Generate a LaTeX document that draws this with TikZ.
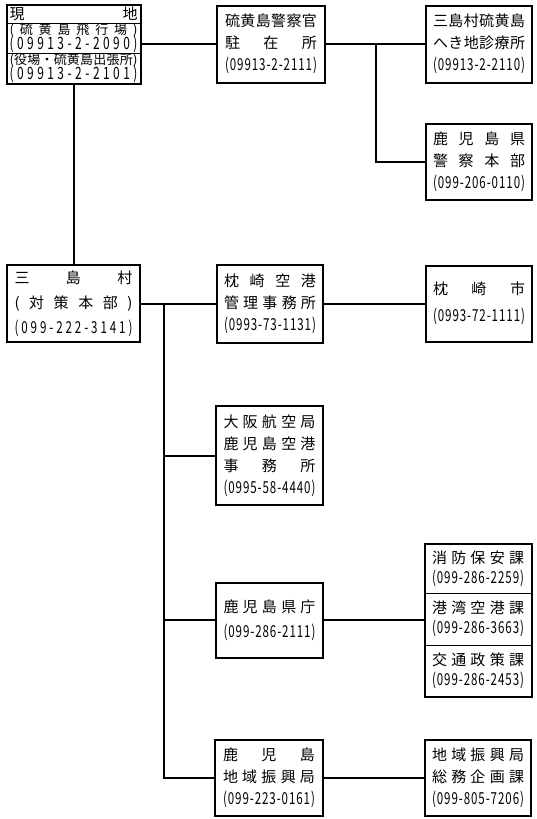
\documentclass[tikz,border=0pt]{standalone}
\usepackage{fontspec}
\setmainfont{Noto Sans CJK JP}
\newfontfamily\telfont[FakeStretch=0.7]{Noto Sans CJK JP}
\usetikzlibrary{fit}
\makeatletter
\def\spread#1{\makebox[\linewidth][s]{\spread@#1\@nil}}
\def\spread@#1#2\@nil{#1\ifx\relax#2\relax\else\hfill\spread@#2\@nil\fi}
\makeatother
\newcommand{\tel}[2][16.5pt]{{\telfont\fontsize{#1}{#1}\selectfont\spread{#2}}}
\tikzset{
  box/.style={draw, line width=2pt, inner sep=0pt, text width=92pt, minimum width=106pt,
    minimum height=77pt, align=center, font=\fontsize{15pt}{22pt}\selectfont},
  widebox/.style={box, text width=118pt, minimum width=133pt},
  part/.style={draw, line width=1pt, inner sep=0pt, text width=92pt, minimum width=106pt,
    align=center, font=\fontsize{15pt}{20pt}\selectfont},
  widepart/.style={part, text width=128pt, minimum width=133pt,
    font={\fontsize{13pt}{15pt}\selectfont\lineskiplimit=-8pt}},
  outline/.style={draw, line width=2pt, inner sep=0pt},
  link/.style={line width=2pt}
}

\begin{document}
\begin{tikzpicture}[x=1pt,y=-1pt]
\useasboundingbox (0,0) rectangle (537,819);
\node[widepart, minimum height=18pt, font=\fontsize{15pt}{15pt}\selectfont] (genchi1) at (73.5,14) {\spread{現地}};
\node[widepart, minimum height=30pt] (genchi2) at (73.5,38) {\spread{(硫黄島飛行場)}\\\tel[17pt]{(09913-2-2090)}};
\node[widepart, minimum height=30pt] (genchi3) at (73.5,68) {\spread{(役場・硫黄島出張所)}\\\tel[17pt]{(09913-2-2101)}};
\node[outline, fit=(genchi1)(genchi3)] (genchi) {};
\node[box, minimum width=108pt] (keisatsu) at (271,44) {\spread{硫黄島警察官}\\\spread{駐在所}\\\tel{(09913-2-2111)}};
\node[box] (shinryo) at (479,44) {\spread{三島村硫黄島}\\\spread{へき地診療所}\\\tel{(09913-2-2110)}};
\node[box, minimum height=76pt] (kenkei) at (479,162) {\spread{鹿児島県}\\\spread{警察本部}\\\tel{(099-206-0110)}};
\node[widebox, font=\fontsize{15pt}{25pt}\selectfont] (mishima) at (73.5,303.5) {\spread{三島村}\\\spread{(対策本部)}\\\tel{(099-222-3141)}};
\node[box, minimum height=78pt] (kuko) at (270,303.5) {\spread{枕崎空港}\\\spread{管理事務所}\\\tel{(0993-73-1131)}};
\node[box, minimum height=76pt, font=\fontsize{15pt}{27pt}\selectfont] (makishi) at (479,303.5) {\spread{枕崎市}\\\tel{(0993-72-1111)}};
\node[box, minimum width=107pt, minimum height=99pt] (osaka) at (269.5,455.5) {\spread{大阪航空局}\\\spread{鹿児島空港}\\\spread{事務所}\\\tel{(0995-58-4440)}};
\node[box, minimum width=107pt, minimum height=75pt, font=\fontsize{15pt}{25pt}\selectfont] (kencho) at (269.5,620) {\spread{鹿児島県庁}\\\tel{(099-286-2111)}};
\node[part, minimum height=49pt] (shobo) at (478,568.5) {\spread{消防保安課}\\\tel{(099-286-2259)}};
\node[part, minimum height=52pt] (kowan) at (478,619) {\spread{港湾空港課}\\\tel{(099-286-3663)}};
\node[part, minimum height=51pt] (kotsu) at (478,670.5) {\spread{交通政策課}\\\tel{(099-286-2453)}};
\node[outline, fit=(shobo)(kotsu)] (ka) {};
\node[box, minimum width=108pt, minimum height=76pt] (chiiki) at (269,778) {\spread{鹿児島}\\\spread{地域振興局}\\\tel{(099-223-0161)}};
\node[box, minimum height=76pt] (somu) at (478,778) {\spread{地域振興局}\\\spread{総務企画課}\\\tel{(099-805-7206)}};
\coordinate (fork) at (376,44);
\coordinate (trunk) at (164,303.5);
\draw[link] (genchi) -- (keisatsu);
\draw[link] (genchi) -- (mishima);
\draw[link] (keisatsu) -- (shinryo);
\draw[link] (fork) |- (kenkei.west);
\draw[link] (mishima) -- (kuko);
\draw[link] (kuko) -- (makishi);
\draw[link] (trunk) |- (osaka.west);
\draw[link] (trunk) |- (kencho.west);
\draw[link] (trunk) |- (chiiki.west);
\draw[link] (kencho) -- (ka);
\draw[link] (chiiki) -- (somu);
\end{tikzpicture}
\end{document}
